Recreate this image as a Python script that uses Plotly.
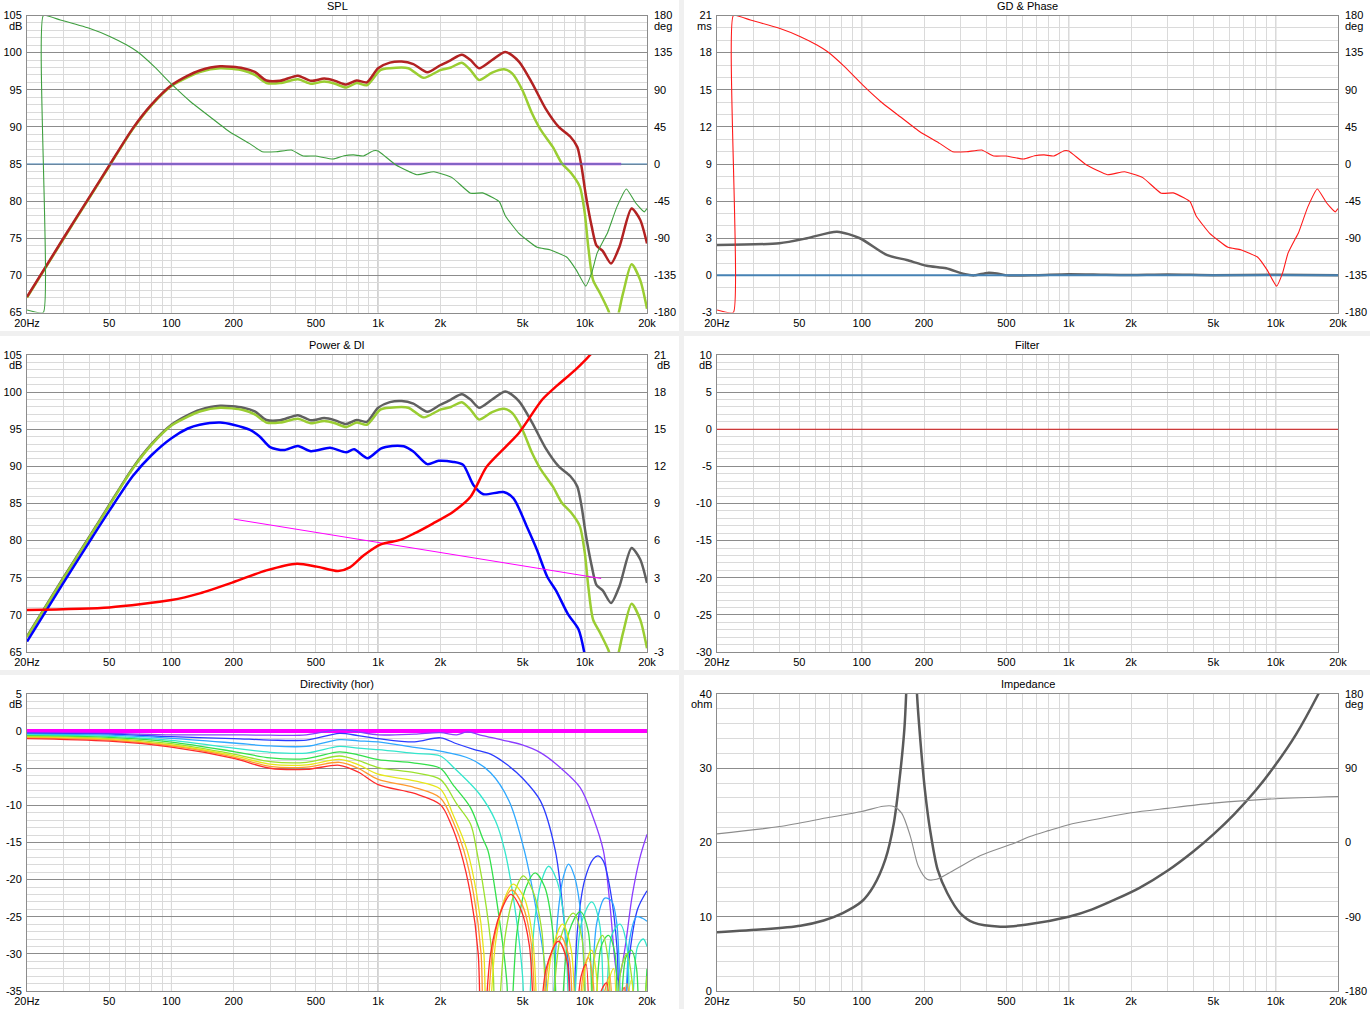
import math
import plotly.graph_objects as go

W, H = 1370, 1009

# ---------------- data ----------------
# SPL panel: on-axis and listening window (dB), phase (deg)
ON_F = [20, 30, 40, 50, 65, 80, 100, 120, 137, 172, 222, 253, 288, 335, 409, 473, 549, 620,
        700, 788, 882, 1000, 1140, 1300, 1480, 1730, 2000, 2250, 2540, 2800, 3080, 3560, 4130,
        4800, 5560, 6450, 7480, 8500, 9200, 9650, 10090, 10800, 11400, 12200, 13400, 14730,
        16840, 18530, 20000]
ON_DB = [67.1, 75.0, 80.5, 84.8, 89.8, 93.0, 95.6, 96.9, 97.6, 98.15, 97.9, 97.4, 96.25, 96.2,
         96.9, 96.2, 96.5, 96.2, 95.7, 96.25, 96.0, 97.9, 98.65, 98.8, 98.45, 97.35, 98.3, 99.0,
         99.7, 99.0, 97.9, 99.0, 100.1, 98.8, 95.9, 92.5, 90.0, 88.7, 87.3, 84.6, 81.0, 76.6,
         74.0, 73.3, 71.6, 73.9, 79.0, 77.5, 74.3]

LW_F = [20, 30, 40, 50, 65, 80, 100, 120, 137, 172, 222, 253, 288, 335, 409, 473, 549, 620,
        700, 788, 882, 1025, 1140, 1400, 1660, 2000, 2250, 2540, 2800, 3080, 3560, 4070, 4450,
        4980, 5560, 6120, 7000, 7740, 8600, 9460, 10000, 10390, 10960, 11850, 12990, 13900,
        15320, 16840, 18530, 20000]
LW_DB = [67.0, 74.9, 80.4, 84.7, 89.7, 92.9, 95.5, 96.7, 97.4, 97.9, 97.6, 97.0, 95.9, 95.9,
         96.4, 95.8, 96.1, 95.8, 95.3, 95.9, 95.6, 97.65, 97.9, 97.9, 96.6, 97.65, 98.0, 98.65,
         97.65, 96.3, 97.3, 97.75, 97.2, 95.0, 91.8, 89.6, 87.3, 85.1, 83.75, 81.95, 78.35,
         73.9, 69.4, 67.6, 65.3, 63.0, 67.6, 71.5, 69.4, 65.5]

PH_F = [20, 24, 24, 29, 40, 50.6, 60.8, 68.5, 82.6, 101, 123.7, 153.5, 191, 238, 275, 321,
        380, 434, 497, 606, 684, 760, 850, 950, 1000, 1060, 1220, 1540, 1860, 2280, 2800, 3200,
        3600, 3860, 4130, 4800, 5880, 6780, 8190, 9070, 10100, 10800, 11470, 12350, 12860,
        14300, 15900, 17600, 19400, 20000]
PH_DEG = [-177, -180, 180, 174.5, 164.5, 154.3, 144.2, 136, 118, 95.8, 75.5, 57.3, 39, 25,
          14.9, 14.9, 17, 9.7, 9.7, 6, 10, 11, 9.7, 16, 15.8, 11, -1.2, -13, -9.4, -16.5, -35.5,
          -35, -41, -45.7, -63, -84, -101, -104, -113, -128, -148, -132, -108, -92, -84, -52,
          -30.3, -47, -58, -54]

TARGET_F = [50, 15000]
TARGET_DB = [85, 85]

FILT_F = [20, 20000]
FILT_DB = [0, 0]
FILT_PH = [0, 0]
FILT_GD = [0, 0]

# GD & Phase panel: group delay (ms)
GD_F = [20, 40, 54.5, 76, 98, 132, 165, 206, 256, 312, 350, 405, 450, 500, 700, 1000, 1500,
        2000, 3000, 5000, 10000, 20000]
GD_MS = [2.45, 2.6, 3.0, 3.53, 3.0, 1.65, 1.24, 0.78, 0.57, 0.11, 0.0, 0.2, 0.15, 0.0, 0.02,
         0.1, 0.05, 0.03, 0.08, 0.02, 0.05, 0.0]

# Power & DI panel
PW_F = [20, 30, 40, 50, 65, 80, 100, 120, 137, 172, 199, 240, 268, 300, 349, 409, 473, 585,
        700, 765, 890, 1030, 1170, 1330, 1480, 1730, 1960, 2310, 2580, 2890, 3230, 4040, 4520,
        5260, 5880, 6590, 7250, 8290, 9310, 9980, 10500]
PW_DB = [66.4, 74.3, 79.8, 84.0, 88.7, 91.5, 93.8, 95.1, 95.6, 95.9, 95.6, 94.9, 94.0, 92.6,
         92.2, 92.75, 92.05, 92.5, 91.9, 92.3, 91.1, 92.4, 92.75, 92.7, 92.0, 90.3, 90.75, 90.6,
         90.2, 87.5, 86.25, 86.55, 85.7, 81.8, 78.7, 75.1, 73.3, 70.1, 68.1, 64.7, 60.0]

DI_F = [20, 50, 100, 137, 199, 288, 405, 505, 640, 730, 850, 1030, 1280, 1480, 1840, 2310,
        2800, 3340, 4130, 4800, 6230, 7290, 9000, 10600, 11500]
DI_DB = [0.4, 0.6, 1.2, 1.74, 2.64, 3.6, 4.14, 3.9, 3.54, 3.84, 4.8, 5.7, 6.06, 6.54, 7.38,
         8.34, 9.54, 11.94, 13.56, 14.7, 17.4, 18.48, 19.8, 21.0, 21.8]

SLOPE_F = [200, 12000]
SLOPE_DB = [82.9, 74.9]

# Directivity (hor): 0..90 deg, common low part + individual high part
DIR_F_LOW = [20, 50, 100, 200, 300, 450, 650, 800, 1000, 1500, 2000]
DIR_0_F = [20, 20000]
DIR_0_DB = [0, 0]
DIR_10_F = DIR_F_LOW + [2400, 2700, 3200, 4000, 4900, 6100, 7600, 9500, 11000, 12300, 13300,
                        14000, 14530, 15500, 17000, 18500, 20000]
DIR_10_DB = [-0.2, -0.3, -0.5, -0.5, -0.55, -0.5, 0.2, -0.1, -0.5, -0.4, -0.2,
             -0.5, -0.1, -0.6, -1.2, -1.8, -2.9, -4.9, -7.6, -11.7, -16.1, -24, -31, -33.6,
             -30, -22, -17, -13.9]
DIR_20_F = DIR_F_LOW + [2400, 2900, 3500, 4200, 5000, 6100, 7200, 7900, 8400, 8650, 9200,
                        10000, 11000, 11600, 12300, 13300, 14300, 15000, 16500, 18000, 20000]
DIR_20_DB = [-0.3, -0.4, -0.75, -1.0, -1.2, -1.2, -0.3, -0.6, -1.0, -1.45, -0.9,
             -1.7, -2.45, -3.1, -4.5, -6.35, -9.4, -16.1, -25, -33, -45, -27, -20, -17.2,
             -16.8, -17.5, -21.5, -29, -45, -30, -24, -21.5]
DIR_30_F = DIR_F_LOW + [2800, 3500, 4300, 5100, 5900, 6500, 6800, 7400, 7900, 8340, 8900,
                        9600, 10400, 11400, 12500, 13500, 14300, 15300, 16500, 17800, 19000,
                        20000]
DIR_30_DB = [-0.4, -0.55, -0.97, -1.6, -2.0, -2.05, -1.15, -1.3, -1.45, -2.2, -2.7,
             -3.75, -5.6, -9.4, -16.1, -25, -33, -45, -25, -19.5, -17.9, -19.5, -25, -45,
             -26, -22.5, -22.9, -26, -45, -28, -25, -25.2, -25.6]
DIR_40_F = DIR_F_LOW + [2300, 3100, 3700, 4100, 4600, 5000, 5200, 5700, 6200, 6680, 7300,
                        8000, 8600, 9600, 10800, 11800, 12500, 13500, 14800, 16000, 16600,
                        18000, 19200, 20000]
DIR_40_DB = [-0.5, -0.7, -1.25, -2.3, -2.85, -2.95, -2.05, -2.3, -2.5, -3.0, -3.35,
             -4.8, -8.5, -12.1, -16.1, -24, -33, -45, -26, -20, -18.2, -20, -26, -45, -26,
             -23, -26, -45, -27.5, -26, -29, -45, -29, -28, -29]
DIR_50_F = DIR_F_LOW + [2300, 2800, 3200, 3400, 3800, 4200, 4300, 4700, 5200, 5750, 6400,
                        7000, 7500, 8400, 9500, 10400, 11000, 12000, 13000, 14000, 14500,
                        15800, 16800, 17800, 18500, 20000]
DIR_50_DB = [-0.6, -0.85, -1.47, -2.75, -3.6, -3.7, -2.8, -3.2, -3.85, -4.3, -5.0,
             -7.2, -10.3, -14.4, -16.1, -24, -34, -45, -27, -21, -19.1, -21, -27, -45, -27,
             -24.3, -27, -45, -29, -27.5, -30, -45, -30.5, -29.5, -32, -45, -32]
DIR_60_F = DIR_F_LOW + [2400, 2800, 3000, 3350, 3600, 3700, 4100, 4600, 5030, 5600, 6200,
                        6700, 7600, 8800, 9700, 10300, 11300, 12200, 13000, 13600, 15000,
                        16000, 17000, 17800, 20000]
DIR_60_DB = [-0.7, -1.0, -1.69, -3.1, -4.1, -4.2, -3.35, -3.95, -4.9, -5.6, -6.5,
             -9.8, -12.5, -16.1, -24, -32, -45, -28, -21.5, -19.5, -21.5, -27, -45, -28,
             -24.5, -28, -45, -29.5, -27.5, -31, -45, -32, -30, -34, -45, -33]
DIR_70_F = DIR_F_LOW + [2300, 2700, 3000, 3250, 3350, 3700, 4100, 4500, 5100, 5600, 6100,
                        6900, 7800, 8600, 9200, 10100, 10800, 11400, 11800, 13000, 13800,
                        14600, 16800, 18000, 20000]
DIR_70_DB = [-0.8, -1.1, -1.87, -3.3, -4.45, -4.55, -3.8, -4.5, -5.8, -6.7, -7.8,
             -11.2, -16.1, -22, -30, -45, -28.5, -22.5, -20.6, -22.5, -28, -45, -30, -26,
             -29.5, -45, -31.5, -29.5, -33, -45, -34, -32, -45, -33.5, -45, -36]
DIR_80_F = DIR_F_LOW + [2300, 2600, 2900, 3150, 3250, 3600, 4000, 4420, 5000, 5500, 5950,
                        6700, 7600, 8400, 8900, 9900, 10400, 11000, 11300, 12500, 13200,
                        14000, 16000, 17500, 20000]
DIR_80_DB = [-0.9, -1.2, -2.0, -3.5, -4.75, -4.85, -4.2, -5.0, -6.5, -7.6, -9.0,
             -12.1, -16.1, -22, -30, -45, -29, -23.5, -21.4, -23.5, -28.5, -45, -31, -27.6,
             -30.5, -45, -32, -30.5, -34, -45, -35, -33, -45, -34, -45, -38]
DIR_90_F = DIR_F_LOW + [2250, 2500, 2800, 3050, 3170, 3500, 3900, 4380, 4900, 5400, 5850,
                        6500, 7446, 8200, 8640, 9600, 10140, 10700, 12000, 12770, 13500,
                        15500, 17000, 20000]
DIR_90_DB = [-1.0, -1.35, -2.15, -3.67, -5.0, -5.15, -4.6, -5.5, -7.2, -8.4, -9.9,
             -12.5, -16.1, -22, -30, -45, -30, -24.5, -22, -24, -29, -45, -32, -28.3, -31,
             -45, -33, -31.4, -45, -35, -33.9, -45, -34.5, -45, -40]

# Impedance panel
IMP_F = [20, 33.5, 50.6, 65.5, 81, 100, 114, 130, 143, 153.5, 160.7, 164, 170, 176, 185, 192,
         202, 214, 233, 259, 299, 348, 467, 630, 1000, 1300, 1700, 2200, 3000, 4000, 5000,
         6300, 8000, 10000, 12500, 16000, 20000]
IMP_OHM = [7.9, 8.3, 8.8, 9.5, 10.5, 12.05, 14.1, 17.7, 22.6, 29.35, 35.2, 40, 55, 55, 40,
           33.8, 27.1, 21.7, 16.3, 13.2, 10.5, 9.2, 8.67, 8.95, 10.0, 11.0, 12.4, 13.9, 16.2,
           18.8, 21.1, 23.8, 27.0, 30.5, 34.5, 39.9, 45.5]
IPH_F = [20, 40, 70, 100, 127, 143, 156, 172, 188, 207, 230, 280, 375, 545, 650, 800, 1000,
         1400, 2000, 3000, 5000, 10000, 20000]
IPH_DEG = [10.5, 19.3, 30.6, 37.5, 44, 43.7, 35.6, 7.2, -29.2, -44.6, -44.6, -33.3, -15.8,
           -0.9, 7.2, 14.4, 21.6, 28.8, 36, 41.4, 47.7, 53.1, 55.8]

# axis ticks
FREQ_TICKS = [20, 50, 100, 200, 500, 1000, 2000, 5000, 10000, 20000]
FREQ_TEXT = ["20Hz", "50", "100", "200", "500", "1k", "2k", "5k", "10k", "20k"]
FREQ_MINOR = [30, 40, 60, 70, 80, 90, 300, 400, 600, 700, 800, 900,
              3000, 4000, 6000, 7000, 8000, 9000]
FREQ_DECADES = [100, 1000, 10000]

# ---------------- layout ----------------
GRID_LIGHT = "#dadada"
GRID_DARK = "#8c8c8c"
FONT = dict(family="Liberation Sans, Arial, sans-serif", size=11, color="#000000")

LEFT_X = (27, 647)
RIGHT_X = (717, 1338)
ROW_TOP = (15.5, 355, 694)
ROW_H = 297

# left axis: (lo, hi, major, minor, unit); right axis: (lo, hi, step, unit, show)
panels = [
    dict(title="SPL", col=LEFT_X, top=ROW_TOP[0], yl=(65, 105, 5, 1, "dB"),
         yr=(-180, 180, 45, "deg", True)),
    dict(title="GD & Phase", col=RIGHT_X, top=ROW_TOP[0], yl=(-3, 21, 3, 1, "ms"),
         yr=(-180, 180, 45, "deg", True)),
    dict(title="Power & DI", col=LEFT_X, top=ROW_TOP[1], yl=(65, 105, 5, 1, "dB"),
         yr=(-3, 21, 3, "dB", True)),
    dict(title="Filter", col=RIGHT_X, top=ROW_TOP[1], yl=(-30, 10, 5, 1, "dB"),
         yr=(-30, 10, 5, "", False)),
    dict(title="Directivity (hor)", col=LEFT_X, top=ROW_TOP[2], yl=(-35, 5, 5, 1, "dB"),
         yr=(-35, 5, 5, "", False)),
    dict(title="Impedance", col=RIGHT_X, top=ROW_TOP[2], yl=(0, 40, 10, 2, "ohm"),
         yr=(-180, 180, 90, "deg", True)),
]


def ax_name(kind, n):
    return kind if n == 1 else f"{kind}{n}"


fig = go.Figure()
layout = dict(width=W, height=H, autosize=False,
              margin=dict(l=0, r=0, t=0, b=0, pad=0, autoexpand=False),
              paper_bgcolor="white", plot_bgcolor="white", showlegend=False,
              font=FONT, shapes=[], annotations=[])

# grey gaps between the panels
for x0, x1 in [(679, 684)]:
    layout["shapes"].append(dict(type="rect", xref="paper", yref="paper", x0=x0 / W,
                                 x1=x1 / W, y0=0, y1=1, fillcolor="#f0f0f0",
                                 line=dict(width=0), layer="below"))
for y0, y1 in [(331, 336), (670, 675)]:
    layout["shapes"].append(dict(type="rect", xref="paper", yref="paper", x0=0, x1=1,
                                 y0=1 - y1 / H, y1=1 - y0 / H, fillcolor="#f0f0f0",
                                 line=dict(width=0), layer="below"))

lf0, lf1 = math.log10(20), math.log10(20000)

for i, p in enumerate(panels):
    n = i + 1
    xid = ax_name("x", n)
    ylid = ax_name("y", 2 * i + 1)
    yrid = ax_name("y", 2 * i + 2)
    xdom = [p["col"][0] / W, p["col"][1] / W]
    ydom = [1 - (p["top"] + ROW_H) / H, 1 - p["top"] / H]

    layout["xaxis" + xid[1:]] = dict(
        type="log", range=[lf0, lf1], domain=xdom, anchor=ylid, automargin=False,
        tickmode="array", tickvals=FREQ_TICKS, ticktext=FREQ_TEXT, ticks="",
        showgrid=True, gridcolor=GRID_LIGHT, gridwidth=1,
        minor=dict(tickmode="array", tickvals=FREQ_MINOR, showgrid=True,
                   gridcolor=GRID_LIGHT, gridwidth=1, ticks=""),
        showline=True, mirror=True, linecolor=GRID_DARK, linewidth=1,
        zeroline=False, tickfont=FONT, fixedrange=True)

    lo, hi, major, minor, unit = p["yl"]
    lvals = list(range(lo, hi + 1, major))
    layout["yaxis" + ylid[1:]] = dict(
        range=[lo, hi], domain=ydom, anchor=xid, automargin=False,
        tickmode="array", tickvals=lvals, ticktext=[str(v) for v in lvals], ticks="",
        showgrid=True, gridcolor=GRID_DARK, gridwidth=1,
        minor=dict(tickmode="array",
                   tickvals=[v for v in range(lo, hi + 1, minor) if (v - lo) % major],
                   showgrid=True, gridcolor=GRID_LIGHT, gridwidth=1, ticks=""),
        showline=True, mirror=True, linecolor=GRID_DARK, linewidth=1,
        zeroline=False, tickfont=FONT, ticklabelstandoff=2, fixedrange=True)

    rlo, rhi, rstep, runit, rshow = p["yr"]
    rvals = list(range(rlo, rhi + 1, rstep))
    layout["yaxis" + yrid[1:]] = dict(
        range=[rlo, rhi], overlaying=ylid, side="right", anchor=xid, automargin=False,
        tickmode="array", tickvals=rvals, ticktext=[str(v) for v in rvals], ticks="",
        showticklabels=rshow, showgrid=False, zeroline=False, showline=False,
        tickfont=FONT, ticklabelstandoff=6, fixedrange=True)

    # darker decade lines
    for f in FREQ_DECADES:
        fr = (math.log10(f) - lf0) / (lf1 - lf0)
        layout["shapes"].append(dict(type="line", xref=xid + " domain", yref=ylid + " domain",
                                     x0=fr, x1=fr, y0=0, y1=1, layer="below",
                                     line=dict(color=GRID_DARK, width=1)))

    # title and unit labels
    layout["annotations"].append(dict(text=p["title"], xref=xid + " domain", x=0.5,
                                      yref=ylid + " domain", y=1, yanchor="middle",
                                      yshift=10, showarrow=False, font=FONT))
    layout["annotations"].append(dict(text=unit, xref=xid + " domain", x=0, xanchor="right",
                                      xshift=-3, yref=ylid + " domain", y=1,
                                      yanchor="middle", yshift=-10, showarrow=False,
                                      font=FONT))
    if rshow:
        layout["annotations"].append(dict(text=runit, xref=xid + " domain", x=1,
                                          xanchor="center", xshift=16,
                                          yref=ylid + " domain", y=1, yanchor="middle",
                                          yshift=-10, showarrow=False, font=FONT))


def line(panel, side, f, v, color, width, shape="spline", smooth=0.7):
    yid = 2 * panel + (1 if side == "l" else 2)
    fig.add_trace(go.Scatter(
        x=f, y=v, xaxis=ax_name("x", panel + 1), yaxis=ax_name("y", yid), mode="lines",
        line=dict(color=color, width=width, shape=shape, smoothing=smooth),
        hoverinfo="skip", showlegend=False))


# SPL
line(0, "l", TARGET_F, TARGET_DB, "#c046d8", 2.5, shape="linear")
line(0, "l", LW_F, LW_DB, "#9acd32", 2.5)
line(0, "l", ON_F, ON_DB, "#b22222", 2.5)
line(0, "r", FILT_F, FILT_PH, "#4682b4", 1.2, shape="linear")
line(0, "r", PH_F, PH_DEG, "#3f9f3f", 1.1, smooth=0.4)

# GD & Phase
line(1, "l", GD_F, GD_MS, "#606060", 2.5)
line(1, "l", FILT_F, FILT_GD, "#4682b4", 2, shape="linear")
line(1, "r", PH_F, PH_DEG, "#ff1a1a", 1.1, smooth=0.4)

# Power & DI
line(2, "l", ON_F, ON_DB, "#606060", 2.5)
line(2, "l", LW_F, LW_DB, "#9acd32", 2.5)
line(2, "l", PW_F, PW_DB, "#0000ff", 2.5)
line(2, "l", SLOPE_F, SLOPE_DB, "#ff00ff", 1, shape="linear")
line(2, "r", DI_F, DI_DB, "#ff0000", 2.5)

# Filter
line(3, "l", FILT_F, FILT_DB, "#e02020", 1.2, shape="linear")

# Directivity
DIR_SERIES = [
    (DIR_0_F, DIR_0_DB, "#ff00ff", 4),
    (DIR_10_F, DIR_10_DB, "#8a3cff", 1.3),
    (DIR_20_F, DIR_20_DB, "#2b3cff", 1.3),
    (DIR_30_F, DIR_30_DB, "#2ea8ff", 1.3),
    (DIR_40_F, DIR_40_DB, "#33e6cc", 1.3),
    (DIR_50_F, DIR_50_DB, "#33e04a", 1.3),
    (DIR_60_F, DIR_60_DB, "#9be22e", 1.3),
    (DIR_70_F, DIR_70_DB, "#e6e61a", 1.3),
    (DIR_80_F, DIR_80_DB, "#ff9a2e", 1.3),
    (DIR_90_F, DIR_90_DB, "#ff2a2a", 1.3),
]
for f, v, c, w in DIR_SERIES:
    line(4, "l", f, v, c, w, smooth=0.9)

# Impedance
line(5, "l", IMP_F, IMP_OHM, "#5a5a5a", 2.5, smooth=0.8)
line(5, "r", IPH_F, IPH_DEG, "#8c8c8c", 1.1, smooth=0.8)

fig.update_layout(**layout)
fig.write_html("out.html", config={"displayModeBar": False, "responsive": False},
               post_script="document.body.style.margin='0';"
                           "document.body.style.overflow='hidden';")
